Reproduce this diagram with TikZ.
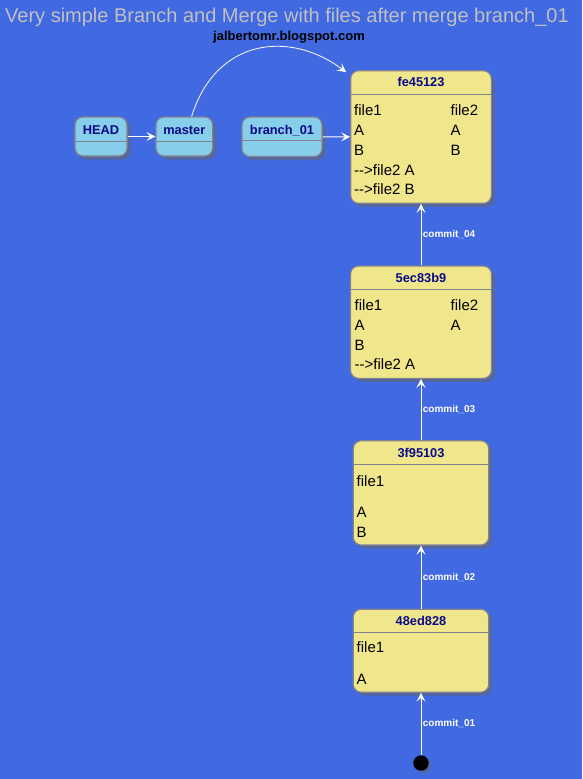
\documentclass[tikz,border=0pt]{standalone}
\usepackage{fontspec}
\setmainfont{Liberation Sans}
\usetikzlibrary{arrows.meta,shadows}
\definecolor{bgblue}{HTML}{4169E1}
\definecolor{khakifill}{HTML}{F0E68C}
\definecolor{skyfill}{HTML}{87CEEB}
\definecolor{statedraw}{RGB}{130,130,145}
\definecolor{titlegray}{RGB}{192,192,192}
\definecolor{namecolor}{RGB}{10,10,135}
\tikzset{
  state/.style={draw=statedraw, line width=1.2pt, rounded corners=8pt,
    inner sep=0pt,
    drop shadow={shadow xshift=3.5pt,shadow yshift=-3.5pt,fill=black!60,opacity=.55}},
  commit/.style={state, fill=khakifill},
  branch/.style={state, fill=skyfill},
  divider/.style={draw=statedraw, line width=1pt},
  statename/.style={font=\bfseries\fontsize{12.8}{15}\selectfont, text=namecolor, inner sep=0pt},
  statebody/.style={font=\fontsize{15}{19.8}\selectfont, anchor=north west, inner sep=0pt},
  flow/.style={draw=white, line width=.8pt, -{Stealth[length=9pt,width=9pt,inset=4pt]}},
  commitlabel/.style={font=\bfseries\fontsize{10}{12}\selectfont, text=white, anchor=west, inner sep=1.5pt, midway}
}
\begin{document}
\begin{tikzpicture}[x=1pt,y=-1pt]
  \fill[bgblue] (0,0) rectangle (582,779);
  \useasboundingbox (0,0) rectangle (582,779);
  % titles
  \node[anchor=base, text=titlegray, font=\fontsize{20}{24}\selectfont, inner sep=0pt] (title) at (287,23)
    {Very simple Branch and Merge with files after merge branch\_01};
  \node[anchor=base, font=\bfseries\fontsize{13}{15}\selectfont, inner sep=0pt] (blog) at (289,40.5)
    {jalbertomr.blogspot.com};
  % branches
  \node[branch, minimum width=52pt, minimum height=39pt] (head) at (101,136.5) {};
  \node[branch, minimum width=56.7pt, minimum height=39pt] (master) at (184.3,136.5) {};
  \node[branch, minimum width=80pt, minimum height=39.5pt] (branch01) at (282,136.8) {};
  \draw[divider] (head.west |- 0,141) -- (head.east |- 0,141);
  \draw[divider] (master.west |- 0,141) -- (master.east |- 0,141);
  \draw[divider] (branch01.west |- 0,140.5) -- (branch01.east |- 0,140.5);
  \node[statename] (head-name) at (head.north |- 0,130) {HEAD};
  \node[statename] (master-name) at (master.north |- 0,130) {master};
  \node[statename] (branch01-name) at (branch01.north |- 0,130.5) {branch\_01};
  % commits
  \node[commit, minimum width=140.7pt, minimum height=132.6pt] (fe45123) at (421,137) {};
  \node[commit, minimum width=141pt, minimum height=112.3pt] (c5ec83b9) at (421,322.2) {};
  \node[commit, minimum width=135.6pt, minimum height=104.3pt] (c3f95103) at (421,492.9) {};
  \node[commit, minimum width=135.6pt, minimum height=83pt] (c48ed828) at (421,650.7) {};
  \draw[divider] (fe45123.west |- 0,94) -- (fe45123.east |- 0,94);
  \draw[divider] (c5ec83b9.west |- 0,289.3) -- (c5ec83b9.east |- 0,289.3);
  \draw[divider] (c3f95103.west |- 0,464.3) -- (c3f95103.east |- 0,464.3);
  \draw[divider] (c48ed828.west |- 0,632.3) -- (c48ed828.east |- 0,632.3);
  \node[statename] (fe45123-name) at (421,82.4) {fe45123};
  \node[statename] (c5ec83b9-name) at (421,277.6) {5ec83b9};
  \node[statename] (c3f95103-name) at (421,452.5) {3f95103};
  \node[statename] (c48ed828-name) at (421,620.7) {48ed828};
  \node[statebody] (fe45123-body) at (354,101.7) {\begin{tabular}{@{}p{96.4pt}@{}l@{}}
    file1 & file2\\ A & A\\ B & B\\ -{}->file2 A & \\ -{}->file2 B & \end{tabular}};
  \node[statebody] (c5ec83b9-body) at (354.5,296.5) {\begin{tabular}{@{}p{96pt}@{}l@{}}
    file1 & file2\\ A & A\\ B & \\ -{}->file2 A & \end{tabular}};
  \node[statebody] (c3f95103-body) at (356.5,472.3) {\begin{tabular}{@{}l@{}}
    file1\\[11.8pt] A\\ B\end{tabular}};
  \node[statebody] (c48ed828-body) at (356.5,638.9) {\begin{tabular}{@{}l@{}}
    file1\\[11.8pt] A\end{tabular}};
  \node[circle, fill=black, minimum size=15.4pt, inner sep=0pt,
    drop shadow={shadow xshift=2.5pt,shadow yshift=-2.5pt,fill=black!60,opacity=.5}] (start) at (421,763) {};
  % connectors
  \begin{scope}[flow]
    \draw (start) -- node[commitlabel] {commit\_01} (c48ed828.south);
    \draw (c48ed828.north) -- node[commitlabel] {commit\_02} (c3f95103.south);
    \draw (c3f95103.north) -- node[commitlabel] {commit\_03} (c5ec83b9.south);
    \draw (c5ec83b9.north) -- node[commitlabel] {commit\_04} (fe45123.south);
    \draw (head) -- (master);
    \draw (branch01) -- (fe45123);
    \draw (master.70) .. controls (216,38) and (290,30) .. ([xshift=-4pt,yshift=-2pt]fe45123.north west);
  \end{scope}
\end{tikzpicture}
\end{document}
